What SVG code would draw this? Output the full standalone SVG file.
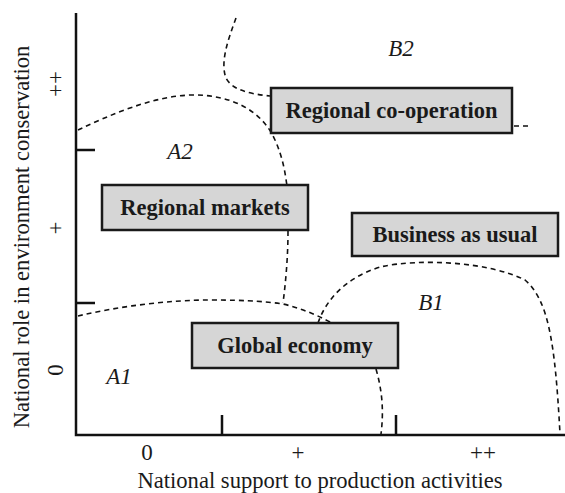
<svg xmlns="http://www.w3.org/2000/svg" width="565" height="493" viewBox="0 0 565 493">
<style>
.ax{stroke:#111;stroke-width:2.5;fill:none}
.d{stroke:#111;stroke-width:1.6;fill:none;stroke-dasharray:5 4}
.box{fill:#d6d6d6;stroke:#1a1a1a;stroke-width:2.5}
text{font-family:'Liberation Serif','Times New Roman',serif;fill:#1a1a1a;text-anchor:middle}
.bt{font-weight:bold;font-size:22.5px}
.t{font-size:23px}
.ti{font-size:22.6px}
.it{font-style:italic;font-size:23px}
</style>
<rect width="565" height="493" fill="#fff"/>
<g id="axes">
<path class="ax" d="M76,13 V435 H565"/>
<path class="ax" d="M76,150 H95 M76,303 H95 M222,435 V415 M396,435 V415"/>
<text class="t" transform="translate(63,84) rotate(-90)">++</text>
<text class="t" transform="translate(63,228) rotate(-90)">+</text>
<text class="t" transform="translate(63,370) rotate(-90)">0</text>
<text class="t" x="147" y="460">0</text>
<text class="t" x="298" y="460">+</text>
<text class="t" x="483" y="460">++</text>
<text class="ti" x="320" y="487.5">National support to production activities</text>
<text class="ti" transform="translate(29,237) rotate(-90)">National role in environment conservation</text>
</g>
<g id="connectors">
<path class="d" d="M236,18 C228,40 220,62 226,78 C232,90 250,94 270,96"/>
<path class="d" d="M514,126 H529"/>
<path class="d" d="M78,130 C110,115 150,97 190,95 C230,94 262,110 275,140 C283,158 285,172 287,186"/>
<path class="d" d="M288,231 C288,255 286,280 283,303"/>
<path class="d" d="M78,316 C120,306 170,300 210,300 C250,300 270,302 283,304 C300,308 315,314 332,323"/>
<path class="d" d="M376,369 C382,390 384,410 381,434"/>
<path class="d" d="M318,323 C326,300 345,278 380,267 C420,258 490,262 525,280 C548,300 555,340 560,434"/>
</g>
<g id="regional-cooperation"><rect class="box" x="271" y="88" width="241" height="45"/><text class="bt" x="391.5" y="118">Regional co-operation</text></g>
<g id="regional-markets"><rect class="box" x="102" y="185" width="206" height="45"/><text class="bt" x="205" y="215">Regional markets</text></g>
<g id="business-as-usual"><rect class="box" x="352" y="213" width="206" height="43"/><text class="bt" x="455" y="242">Business as usual</text></g>
<g id="global-economy"><rect class="box" x="192" y="323" width="206" height="45"/><text class="bt" x="295" y="353">Global economy</text></g>
<g id="labels">
<text class="it" x="401" y="56">B2</text>
<text class="it" x="180" y="159">A2</text>
<text class="it" x="431" y="310">B1</text>
<text class="it" x="119" y="384">A1</text>
</g>
</svg>
